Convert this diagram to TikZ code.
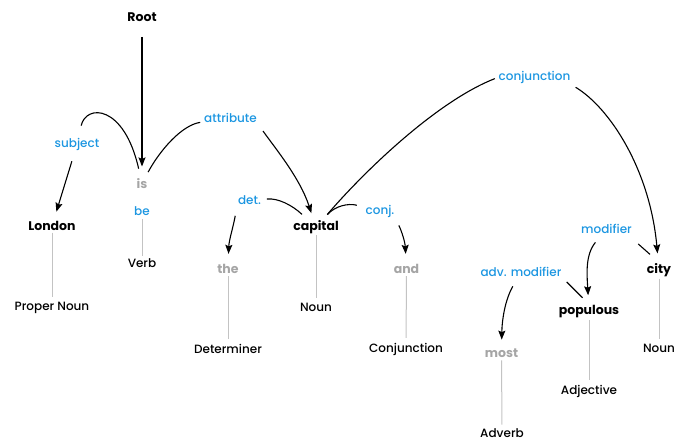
\documentclass[tikz,border=0pt]{standalone}
\usepackage{fontspec}
\setmainfont{Poppins}
\newfontfamily\medfont{Poppins Medium}
\usetikzlibrary{arrows.meta}
\definecolor{relblue}{RGB}{28,150,225}
\definecolor{fngray}{RGB}{165,165,165}
\definecolor{stemgray}{RGB}{195,195,195}
\begin{document}
\begin{tikzpicture}[x=1pt,y=-1pt,
  word/.style={font=\bfseries\fontsize{12.5}{14}\selectfont, text=black, inner sep=1pt, outer sep=0pt},
  fnword/.style={word, text=fngray},
  posw/.style={font=\medfont\fontsize{12}{14}\selectfont, text=black, inner sep=1pt, outer sep=0pt},
  rel/.style={font=\medfont\fontsize{12}{14}\selectfont, text=relblue, inner sep=1pt, outer sep=0pt},
  dep/.style={-{Stealth[length=9pt,width=7pt,inset=1.5pt]}, line width=1.1pt, black},
  tie/.style={line width=1.1pt, black},
  stem/.style={stemgray, line width=1pt}
]
\useasboundingbox (0,0) rectangle (685,441);
% words
\node[word] (root) at (142,17.5) {Root};
\node[fnword] (is) at (142,183.5) {is};
\node[rel] (be) at (142,211.5) {be};
\node[posw] (verb) at (142,263) {Verb};
\node[word] (london) at (52,226) {London};
\node[posw] (pnoun) at (52,307.5) {Proper Noun};
\node[fnword] (the) at (228,268.5) {the};
\node[posw] (detpos) at (228,349) {Determiner};
\node[word] (capital) at (316,227.5) {capital};
\node[posw] (noun1) at (316,307) {Noun};
\node[fnword] (and) at (406.5,268.5) {and};
\node[posw] (conjpos) at (406,349) {Conjunction};
\node[fnword] (most) at (501.5,353) {most};
\node[posw] (adverb) at (502,433) {Adverb};
\node[word] (populous) at (589,311.5) {populous};
\node[posw] (adj) at (589,391.5) {Adjective};
\node[word] (city) at (659,270) {city};
\node[posw] (noun2) at (659,348) {Noun};
% relation labels
\node[rel] (lsubj) at (77,144.5) {subject};
\node[rel] (lattr) at (230.5,118) {attribute};
\node[rel] (ldet) at (249.5,200.5) {det.};
\node[rel] (lconj) at (380,211) {conj.};
\node[rel] (lconjunction) at (534.5,77.5) {conjunction};
\node[rel] (lmod) at (606.5,229) {modifier};
\node[rel] (ladv) at (521,272) {adv. modifier};
% stems
\draw[stem, shorten <=2pt, shorten >=2pt] (be) -- (verb);
\draw[stem, shorten <=1pt, shorten >=4pt] (london) -- (pnoun);
\draw[stem, shorten <=2pt, shorten >=4pt] (the) -- (detpos);
\draw[stem, shorten <=0pt, shorten >=4pt] (capital) -- (noun1);
\draw[stem, shorten <=2pt, shorten >=4pt] (and) -- (conjpos);
\draw[stem, shorten <=2pt, shorten >=3pt] (most) -- (adverb);
\draw[stem, shorten <=1pt, shorten >=4pt] (populous) -- (adj);
\draw[stem, shorten <=1pt, shorten >=4pt] (city) -- (noun2);
% dependencies
\draw[dep, shorten <=14pt, shorten >=11pt] (root) -- (is);
\draw[tie, shorten <=9pt, shorten >=12pt] (is) .. controls (124,104) and (86,104) .. (lsubj);
\draw[dep, shorten <=10pt, shorten >=9pt] (lsubj) -- (london);
\draw[tie, shorten <=6pt, shorten >=3pt] (is) .. controls (160,150) and (182,125) .. (lattr);
\draw[dep, shorten <=9pt, shorten >=7pt] (lattr.south east) .. controls (275,148) and (300,178) .. (capital);
\draw[tie, shorten <=8pt, shorten >=5pt] (capital) .. controls (292,205) and (278,198) .. (ldet);
\draw[dep, shorten <=10pt, shorten >=9pt] (ldet.south west) .. controls (233,228) and (229,240) .. (the);
\draw[tie, shorten <=7pt, shorten >=8pt] (capital) .. controls (335,206) and (348,203) .. (lconj);
\draw[dep, shorten <=8pt, shorten >=9pt] (lconj.south east) .. controls (402,232) and (405,242) .. (and);
\draw[tie, shorten <=7pt, shorten >=3pt] (capital) .. controls (370,165) and (440,100) .. (lconjunction.west);
\draw[dep, shorten <=5pt, shorten >=9pt] (lconjunction.south east) .. controls (610,108) and (650,170) .. (city);
\draw[tie, shorten <=12pt, shorten >=14pt] (city.north) -- (lmod.-15);
\draw[dep, shorten <=10pt, shorten >=9pt] (lmod) .. controls (585,255) and (587,275) .. (populous);
\draw[tie, shorten <=9pt, shorten >=6pt] (populous.north) -- (ladv.south east);
\draw[dep, shorten <=10pt, shorten >=8pt] (ladv) .. controls (505,300) and (502,320) .. (most);
\end{tikzpicture}
\end{document}
